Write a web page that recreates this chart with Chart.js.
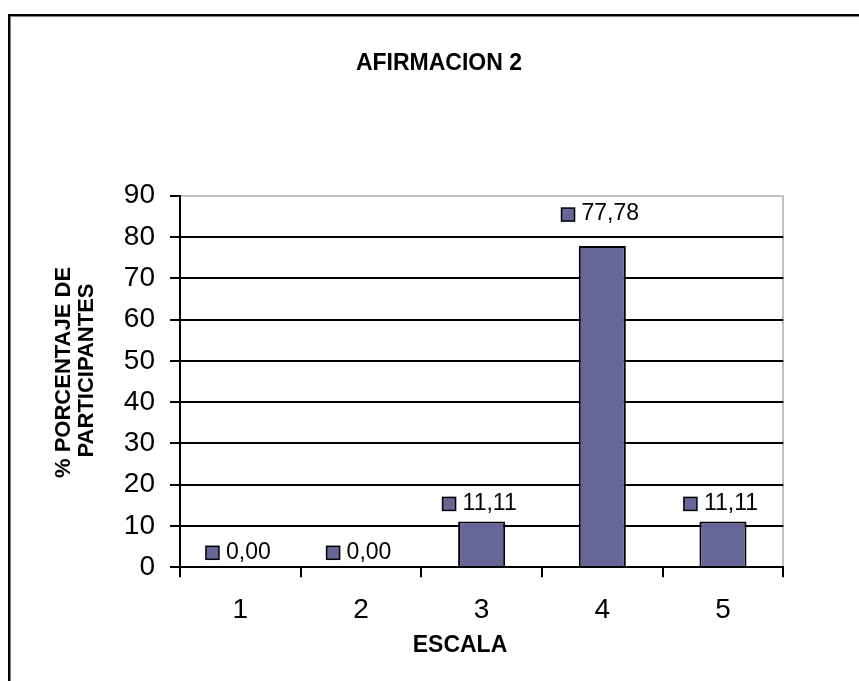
<!DOCTYPE html>
<html>
<head>
<meta charset="utf-8">
<script src="https://cdn.jsdelivr.net/npm/chart.js@4/dist/chart.umd.min.js"></script>
<style>
  html, body { margin: 0; padding: 0; background: #fff; }
  #wrap { position: relative; width: 859px; height: 681px; overflow: hidden; }
  #frame {
    position: absolute; left: 8px; top: 14px; width: 900px; height: 700px;
    border-top: 2px solid #000; border-left: 2px solid #000;
    box-shadow: inset 1px 1px 0 #808080;
  }
  #c { position: absolute; left: 0; top: 0; }
</style>
</head>
<body>
<div id="wrap">
  <div id="frame"></div>
  <canvas id="c" width="859" height="681"></canvas>
</div>
<script>
const CATEGORIES = ['1', '2', '3', '4', '5'];
const VALUES     = [0.00, 0.00, 11.11, 77.78, 11.11];
const Y_MIN = 0, Y_MAX = 90, Y_STEP = 10;

const TITLE   = 'AFIRMACION 2';
const X_TITLE = 'ESCALA';
const Y_TITLE = ['% PORCENTAJE DE', 'PARTICIPANTES'];

const BAR = '#666699';
const FONT = "'Liberation Sans', Arial, sans-serif";

// how far above the bar top each label sits (Excel moved some of them)
const LABEL_LIFT = [15, 15, 18, 32, 18];

const fmt = v => v.toFixed(2).replace('.', ',');

const extras = {
  id: 'extras',
  afterDatasetsDraw(chart) {
    const { ctx, chartArea: a } = chart;
    const meta = chart.getDatasetMeta(0);
    ctx.save();
    ctx.font = '23px ' + FONT;
    ctx.textBaseline = 'middle';
    ctx.textAlign = 'left';
    meta.data.forEach((bar, i) => {
      const txt = fmt(VALUES[i]);
      const tw = ctx.measureText(txt).width;
      const total = 13 + 7 + tw;
      const x0 = bar.x - total / 2 - 2;
      const y = bar.y - LABEL_LIFT[i];
      ctx.fillStyle = BAR;
      ctx.fillRect(x0, y - 6, 13, 13);
      ctx.strokeStyle = '#000';
      ctx.lineWidth = 1.5;
      ctx.strokeRect(x0, y - 6, 13, 13);
      ctx.fillStyle = '#000';
      ctx.fillText(txt, x0 + 20, y);
    });

    // axis titles
    ctx.font = 'bold 23px ' + FONT;
    ctx.textAlign = 'center';
    ctx.fillText(X_TITLE, a.left + 280, a.bottom + 78);

    ctx.font = 'bold 22px ' + FONT;
    const my = (a.top + a.bottom) / 2 - 9;
    ctx.translate(a.left - 116, my);
    ctx.rotate(-Math.PI / 2);
    ctx.fillText(Y_TITLE[0], 0, 0);
    ctx.fillText(Y_TITLE[1], 2, 23);
    ctx.restore();
  }
};

new Chart(document.getElementById('c'), {
  type: 'bar',
  data: {
    labels: CATEGORIES,
    datasets: [{
      data: VALUES,
      backgroundColor: BAR,
      borderColor: '#000',
      borderWidth: 2,
      categoryPercentage: 1,
      barPercentage: 0.39,
    }],
  },
  options: {
    responsive: false,
    animation: false,
    layout: { padding: { left: 94.7, right: 75.7, top: 0, bottom: 0 } },
    plugins: {
      legend: { display: false },
      tooltip: { enabled: false },
      title: {
        display: true, text: TITLE, color: '#000',
        font: { family: FONT, size: 23, weight: 'bold', lineHeight: 1.2 },
        padding: { top: 50.2, bottom: 117.8 },
      },
    },
    scales: {
      x: {
        offset: true,
        grid: {
          offset: true, drawOnChartArea: true, drawTicks: true, tickLength: 10,
          color: c => c.type === 'scale' ? '#c0c0c0' : 'transparent',
          tickColor: '#000', lineWidth: 2, tickWidth: 2,
        },
        border: { color: '#000', width: 2 },
        ticks: { color: '#000', padding: 16, font: { family: FONT, size: 28 } },
        afterFit: s => { s.height = 113.7; },
      },
      y: {
        min: Y_MIN, max: Y_MAX,
        grid: {
          color: c => c.tick && c.tick.value === Y_MAX ? '#c0c0c0' : '#000',
          tickColor: '#000', lineWidth: 2, tickLength: 10,
        },
        border: { color: '#000', width: 2 },
        ticks: { stepSize: Y_STEP, color: '#000', padding: 15, font: { family: FONT, size: 28 } },
        afterFit: s => { s.width = 85.3; },
      },
    },
  },
  plugins: [extras],
});
</script>
</body>
</html>
